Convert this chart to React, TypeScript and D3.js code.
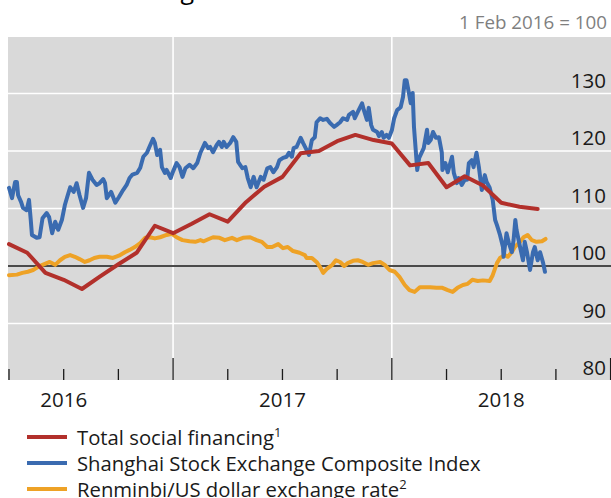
import React from 'react';
import * as d3 from 'd3';

const W = 611;
const H = 498;
const FONT = "'Open Sans', 'Noto Sans', sans-serif";

// Total social financing (monthly), 1 Feb 2016 = 100
const financing: [string, number][] = [
  ["2016-04-01", 103.8], ["2016-05-01", 102.3], ["2016-06-01", 98.8], ["2016-07-01", 97.6],
  ["2016-08-01", 96.0], ["2016-09-01", 98.2], ["2016-10-01", 100.3], ["2016-11-01", 102.3],
  ["2016-12-01", 107.0], ["2017-01-01", 105.7], ["2017-02-01", 107.3], ["2017-03-01", 109.0],
  ["2017-04-01", 107.7], ["2017-05-01", 111.1], ["2017-06-01", 113.8], ["2017-07-01", 115.5],
  ["2017-08-01", 119.6], ["2017-09-01", 120.0], ["2017-10-01", 121.7], ["2017-11-01", 122.8],
  ["2017-12-01", 121.9], ["2018-01-01", 121.3], ["2018-02-01", 117.5], ["2018-03-01", 117.9],
  ["2018-04-01", 113.7], ["2018-05-01", 115.6], ["2018-06-01", 114.0], ["2018-07-01", 111.0],
  ["2018-08-01", 110.3], ["2018-09-01", 109.9],
];

// Shanghai Stock Exchange Composite Index
const shanghai: [string, number][] = [
  ["2016-04-01", 113.6], ["2016-04-06", 111.8], ["2016-04-11", 114.6], ["2016-04-14", 114.6], ["2016-04-16", 112.3], ["2016-04-21", 111.1], ["2016-04-24", 110.1], ["2016-04-30", 109.7],
  ["2016-05-04", 111.5], ["2016-05-07", 108.0], ["2016-05-09", 105.4], ["2016-05-17", 104.9], ["2016-05-22", 105.0], ["2016-05-27", 108.3],
  ["2016-06-03", 109.2], ["2016-06-07", 108.5], ["2016-06-12", 105.7], ["2016-06-17", 107.7], ["2016-06-22", 106.3], ["2016-06-28", 108.0],
  ["2016-07-03", 110.6], ["2016-07-07", 112.0], ["2016-07-12", 113.7], ["2016-07-18", 112.9], ["2016-07-23", 114.4], ["2016-07-28", 112.3],
  ["2016-08-03", 110.1], ["2016-08-08", 111.8], ["2016-08-13", 116.2], ["2016-08-19", 115.0], ["2016-08-26", 114.1], ["2016-08-31", 114.4],
  ["2016-09-06", 115.1], ["2016-09-09", 114.4], ["2016-09-12", 111.8], ["2016-09-19", 112.9], ["2016-09-26", 111.0],
  ["2016-10-02", 112.0], ["2016-10-09", 113.2], ["2016-10-15", 114.1], ["2016-10-20", 115.3], ["2016-10-25", 115.9],
  ["2016-11-02", 116.2], ["2016-11-07", 117.1], ["2016-11-12", 119.0], ["2016-11-18", 119.7], ["2016-11-22", 120.7], ["2016-11-28", 122.1],
  ["2016-12-01", 121.4], ["2016-12-05", 119.3], ["2016-12-10", 120.2], ["2016-12-13", 117.2], ["2016-12-18", 116.2], ["2016-12-21", 116.7], ["2016-12-28", 115.3], ["2016-12-31", 116.2],
  ["2017-01-07", 117.9], ["2017-01-12", 117.2], ["2017-01-17", 115.5], ["2017-01-22", 117.0], ["2017-01-29", 117.6],
  ["2017-02-04", 117.0], ["2017-02-10", 117.9], ["2017-02-15", 119.7], ["2017-02-22", 121.4], ["2017-02-27", 120.5],
  ["2017-03-02", 120.7], ["2017-03-07", 119.8], ["2017-03-13", 121.0], ["2017-03-17", 121.6], ["2017-03-22", 120.7], ["2017-03-25", 121.6], ["2017-03-30", 120.7],
  ["2017-04-05", 121.4], ["2017-04-10", 122.4], ["2017-04-15", 121.6], ["2017-04-18", 118.1], ["2017-04-25", 117.0], ["2017-04-30", 117.2],
  ["2017-05-04", 115.3], ["2017-05-09", 113.7], ["2017-05-14", 115.5], ["2017-05-19", 113.7], ["2017-05-26", 115.5], ["2017-05-31", 115.0],
  ["2017-06-06", 117.0], ["2017-06-11", 117.2], ["2017-06-16", 116.3], ["2017-06-22", 117.2], ["2017-06-26", 118.4],
  ["2017-07-02", 118.8], ["2017-07-08", 119.0], ["2017-07-12", 119.7], ["2017-07-17", 119.0], ["2017-07-20", 120.5], ["2017-07-25", 120.7],
  ["2017-08-01", 122.3], ["2017-08-05", 121.4], ["2017-08-11", 120.2], ["2017-08-15", 119.3], ["2017-08-20", 121.9], ["2017-08-25", 122.4], ["2017-08-28", 125.0],
  ["2017-09-03", 125.7], ["2017-09-08", 125.4], ["2017-09-14", 125.6], ["2017-09-19", 124.9], ["2017-09-26", 124.2], ["2017-09-30", 124.5],
  ["2017-10-06", 125.0], ["2017-10-11", 125.7], ["2017-10-18", 125.4], ["2017-10-21", 126.3], ["2017-10-28", 126.8], ["2017-10-31", 125.7],
  ["2017-11-05", 126.8], ["2017-11-12", 128.3], ["2017-11-15", 127.1], ["2017-11-20", 125.4], ["2017-11-23", 127.5], ["2017-11-27", 124.5], ["2017-11-30", 123.7],
  ["2017-12-07", 123.3], ["2017-12-10", 122.6], ["2017-12-15", 123.3], ["2017-12-18", 122.3], ["2017-12-23", 122.8], ["2017-12-27", 122.3],
  ["2018-01-01", 123.6], ["2018-01-05", 125.7], ["2018-01-10", 127.1], ["2018-01-16", 127.6], ["2018-01-20", 129.4], ["2018-01-23", 132.3], ["2018-01-26", 132.3], ["2018-01-30", 130.1],
  ["2018-02-02", 128.3], ["2018-02-05", 130.1], ["2018-02-07", 124.2], ["2018-02-12", 116.7], ["2018-02-15", 118.8], ["2018-02-22", 120.5], ["2018-02-27", 123.7],
  ["2018-03-01", 121.4], ["2018-03-05", 121.9], ["2018-03-09", 123.3], ["2018-03-14", 122.3], ["2018-03-19", 122.4], ["2018-03-24", 119.7], ["2018-03-25", 116.7], ["2018-03-30", 117.9],
  ["2018-04-03", 116.3], ["2018-04-10", 119.0], ["2018-04-13", 116.2], ["2018-04-18", 114.4], ["2018-04-21", 115.3], ["2018-04-26", 114.1],
  ["2018-05-01", 115.0], ["2018-05-05", 115.0], ["2018-05-08", 117.9], ["2018-05-13", 118.4], ["2018-05-16", 117.2], ["2018-05-21", 119.7], ["2018-05-25", 117.2], ["2018-05-30", 113.2],
  ["2018-06-04", 115.8], ["2018-06-07", 114.6], ["2018-06-12", 113.6], ["2018-06-17", 111.5], ["2018-06-21", 108.0], ["2018-06-24", 107.1], ["2018-06-29", 105.4],
  ["2018-07-04", 103.3], ["2018-07-05", 101.6], ["2018-07-10", 105.7], ["2018-07-14", 104.0], ["2018-07-19", 102.4], ["2018-07-22", 104.5], ["2018-07-25", 108.0], ["2018-07-27", 106.3],
  ["2018-08-02", 103.3], ["2018-08-07", 101.0], ["2018-08-10", 104.2], ["2018-08-14", 102.3], ["2018-08-19", 99.3], ["2018-08-24", 102.4], ["2018-08-27", 103.3],
  ["2018-09-01", 101.0], ["2018-09-05", 102.4], ["2018-09-10", 100.5], ["2018-09-13", 99.0],
];

// Renminbi / US dollar exchange rate
const renminbi: [string, number][] = [
  ["2016-04-01", 98.4], ["2016-04-14", 98.5], ["2016-04-23", 98.8], ["2016-05-02", 99.0], ["2016-05-11", 99.3], ["2016-05-19", 99.8], ["2016-05-27", 100.2],
  ["2016-06-08", 100.7], ["2016-06-17", 100.2], ["2016-06-25", 101.0], ["2016-07-03", 101.6], ["2016-07-12", 101.9], ["2016-07-20", 101.6], ["2016-07-28", 101.2],
  ["2016-08-06", 100.7], ["2016-08-14", 101.0], ["2016-08-22", 101.4], ["2016-08-31", 101.6], ["2016-09-12", 101.6], ["2016-09-22", 101.4], ["2016-10-04", 101.9],
  ["2016-10-12", 102.4], ["2016-10-20", 102.8], ["2016-10-29", 103.3], ["2016-11-07", 104.0], ["2016-11-15", 104.9], ["2016-11-23", 105.0], ["2016-12-01", 104.8],
  ["2016-12-10", 105.0], ["2016-12-21", 105.4], ["2016-12-30", 105.6], ["2017-01-07", 105.0], ["2017-01-17", 104.5], ["2017-01-29", 104.3], ["2017-02-07", 104.2],
  ["2017-02-15", 104.5], ["2017-02-20", 104.3], ["2017-02-28", 104.7], ["2017-03-07", 105.0], ["2017-03-18", 104.9], ["2017-03-27", 104.5], ["2017-04-08", 104.9],
  ["2017-04-16", 104.5], ["2017-04-26", 104.9], ["2017-05-08", 105.0], ["2017-05-19", 104.5], ["2017-05-28", 104.2], ["2017-06-06", 103.3], ["2017-06-14", 103.3],
  ["2017-06-24", 103.8], ["2017-07-02", 103.1], ["2017-07-10", 103.3], ["2017-07-19", 102.6], ["2017-07-30", 102.3], ["2017-08-08", 101.9], ["2017-08-11", 101.4],
  ["2017-08-20", 101.4], ["2017-08-28", 100.7], ["2017-09-03", 99.8], ["2017-09-08", 98.8], ["2017-09-14", 99.5], ["2017-09-23", 100.2], ["2017-09-29", 101.0],
  ["2017-10-06", 100.7], ["2017-10-13", 100.0], ["2017-10-19", 100.5], ["2017-10-28", 100.9], ["2017-11-05", 101.0], ["2017-11-13", 100.7], ["2017-11-22", 100.2],
  ["2017-11-30", 100.5], ["2017-12-12", 100.7], ["2017-12-20", 100.2], ["2017-12-28", 99.3], ["2018-01-06", 99.0], ["2018-01-14", 98.1], ["2018-01-23", 96.7],
  ["2018-01-31", 95.8], ["2018-02-08", 95.5], ["2018-02-16", 96.3], ["2018-02-24", 96.3], ["2018-03-04", 96.3], ["2018-03-15", 96.2], ["2018-03-25", 96.2],
  ["2018-04-03", 95.8], ["2018-04-11", 95.5], ["2018-04-19", 96.2], ["2018-04-28", 96.7], ["2018-05-06", 96.9], ["2018-05-14", 97.6], ["2018-05-23", 97.4],
  ["2018-06-01", 97.5], ["2018-06-12", 97.4], ["2018-06-17", 98.4], ["2018-06-24", 100.5], ["2018-06-29", 101.4], ["2018-07-07", 101.9], ["2018-07-12", 101.6],
  ["2018-07-19", 102.4], ["2018-07-24", 103.3], ["2018-08-02", 104.2], ["2018-08-08", 105.0], ["2018-08-15", 105.4], ["2018-08-22", 104.5], ["2018-08-30", 104.2],
  ["2018-09-08", 104.3], ["2018-09-14", 104.7],
];

const yTickValues = [80, 90, 100, 110, 120, 130];
const whiteGridValues = [90, 110, 120, 130];
const yearLabels = ["2016", "2017", "2018"];
const seriesNames = [
  "Total social financing",
  "Shanghai Stock Exchange Composite Index",
  "Renminbi/US dollar exchange rate",
];
const seriesNotes = ["1", "", "2"];
const seriesColors = ["#b2302b", "#3a6bb0", "#eea226"];
const unitNote = "1 Feb 2016 = 100";

// month index (fractional) since Jan 2016
function monthIndex(s: string): number {
  const [y, m, d] = s.split("-").map(Number);
  const dim = new Date(y, m, 0).getDate();
  return (y - 2016) * 12 + (m - 1) + (d - 1) / dim;
}

const plotLeft = 8;
const plotRight = 611;
const plotTop = 37;
const plotBottom = 380;

const x = d3.scaleLinear().domain([3, 36]).range([9, 610.6]);
const y = d3.scaleLinear().domain([80, 140]).range([381, 36]);

const line = d3
  .line<[string, number]>()
  .x((d) => x(monthIndex(d[0])))
  .y((d) => y(d[1]));

export default function App() {
  const quarterTicks = d3.range(3, 37, 3);
  const series = [financing, shanghai, renminbi];
  const drawOrder = [2, 1, 0];
  return (
    <svg
      width={W}
      height={H}
      viewBox={`0 0 ${W} ${H}`}
      style={{ position: "absolute", left: 0, top: 0, fontFamily: FONT }}
    >
      <rect x={0} y={0} width={W} height={H} fill="#ffffff" />
      {/* clipped title: only the descender shows */}
      <text x={194} y={-1} fontSize={25} textAnchor="end" fill="#000">
        Financing
      </text>
      <text x={607} y={29} fontSize={18.8} textAnchor="end" fill="#7f7f7f">
        {unitNote}
      </text>
      <rect
        x={plotLeft}
        y={plotTop}
        width={plotRight - plotLeft}
        height={plotBottom - plotTop}
        fill="#d9d9d9"
      />
      {whiteGridValues.map((v) => (
        <line key={v} x1={plotLeft} x2={plotRight} y1={y(v)} y2={y(v)} stroke="#ffffff" strokeWidth={1.6} />
      ))}
      {quarterTicks
        .filter((m) => m % 12 === 0 && m < 36)
        .map((m) => (
          <line key={"vg" + m} x1={x(m)} x2={x(m)} y1={plotTop} y2={plotBottom} stroke="#ffffff" strokeWidth={1.6} />
        ))}
      <line x1={plotLeft} x2={plotRight} y1={y(100)} y2={y(100)} stroke="#4a4a4a" strokeWidth={2} />
      {quarterTicks.map((m) => (
        <line
          key={"t" + m}
          x1={x(m)}
          x2={x(m)}
          y1={m % 12 === 0 ? plotBottom - 22 : plotBottom - 11}
          y2={plotBottom}
          stroke="#1a1a1a"
          strokeWidth={1.3}
        />
      ))}
      {drawOrder.map((i) => (
        <path
          key={"s" + i}
          d={line(series[i]) || ""}
          fill="none"
          stroke={seriesColors[i]}
          strokeWidth={4}
          strokeLinejoin="round"
          strokeLinecap="round"
        />
      ))}
      {yTickValues.map((v) => (
        <text key={"yl" + v} x={606} y={y(v) - 6} fontSize={20.5} textAnchor="end" fill="#1a1a1a">
          {v}
        </text>
      ))}
      {yearLabels.map((lab, i) => (
        <text key={lab} x={x(6 + 12 * i)} y={407} fontSize={20.5} textAnchor="middle" fill="#1a1a1a">
          {lab}
        </text>
      ))}
      {seriesNames.map((name, i) => (
        <g key={name}>
          <line x1={27} x2={67} y1={437 + 26 * i} y2={437 + 26 * i} stroke={seriesColors[i]} strokeWidth={4} />
          <text x={77} y={444.5 + 26 * i} fontSize={20.3} fill="#1a1a1a">
            {name}
            {seriesNotes[i] && (
              <tspan dy={-8} fontSize={13}>
                {seriesNotes[i]}
              </tspan>
            )}
          </text>
        </g>
      ))}
    </svg>
  );
}
